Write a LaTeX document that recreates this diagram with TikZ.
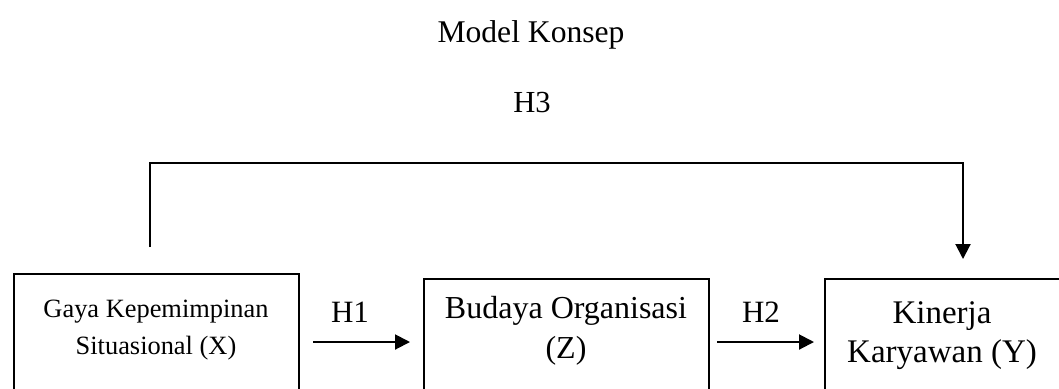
\documentclass[tikz,border=0pt]{standalone}
\usepackage{fontspec}
\setmainfont{Liberation Serif}
\usetikzlibrary{arrows.meta}
\begin{document}
\begin{tikzpicture}[x=0.5pt,y=-0.5pt,
  box/.style={draw, line width=0.9pt, inner sep=0pt, minimum height=70pt, anchor=north west},
  arr/.style={line width=1pt, -{Triangle[length=7.5pt,width=7.5pt]}},
  lbl/.style={anchor=base, inner sep=0pt}]
\useasboundingbox (0,0) rectangle (1059,388);
\begin{scope}
\clip (0,0) rectangle (1059,388);
\node[box, minimum width=142.5pt] (X) at (13,273) {};
\node[box, minimum width=142.5pt] (Z) at (423,278) {};
\node[box, minimum width=120pt] (Y) at (824,278) {};
\end{scope}
% titles
\node[lbl, font=\fontsize{15.8}{18}\selectfont] (title) at (531,42) {Model Konsep};
\node[lbl, font=\fontsize{15.3}{18}\selectfont] (h3) at (532,112) {H3};
% box texts
\node[lbl, font=\fontsize{13.2}{15}\selectfont] (xt1) at (156,317) {Gaya Kepemimpinan};
\node[lbl, font=\fontsize{13.2}{15}\selectfont] (xt2) at (156,354) {Situasional (X)};
\node[lbl, font=\fontsize{16}{18}\selectfont] (zt1) at (566,318) {Budaya Organisasi};
\node[lbl, font=\fontsize{16}{18}\selectfont] (zt2) at (566,358) {(Z)};
\node[lbl, font=\fontsize{16.5}{18}\selectfont] (yt1) at (942,323) {Kinerja};
\node[lbl, font=\fontsize{16.5}{18}\selectfont] (yt2) at (942,362) {Karyawan (Y)};
% arrow labels
\node[lbl, font=\fontsize{15.5}{18}\selectfont] (h1) at (350,322) {H1};
\node[lbl, font=\fontsize{15.5}{18}\selectfont] (h2) at (761,322) {H2};
% connectors
\coordinate (h1s) at (313,342);
\coordinate (h1e) at (410,342);
\coordinate (h2s) at (717,342);
\coordinate (h2e) at (814,342);
\draw[arr] (h1s) -- (h1e);
\draw[arr] (h2s) -- (h2e);
\coordinate (s3) at (150,247);
\coordinate (c1) at (150,163);
\coordinate (c2) at (963,163);
\coordinate (e3) at (963,259);
\draw[arr] (s3) -- (c1) -- (c2) -- (e3);
\end{tikzpicture}
\end{document}
